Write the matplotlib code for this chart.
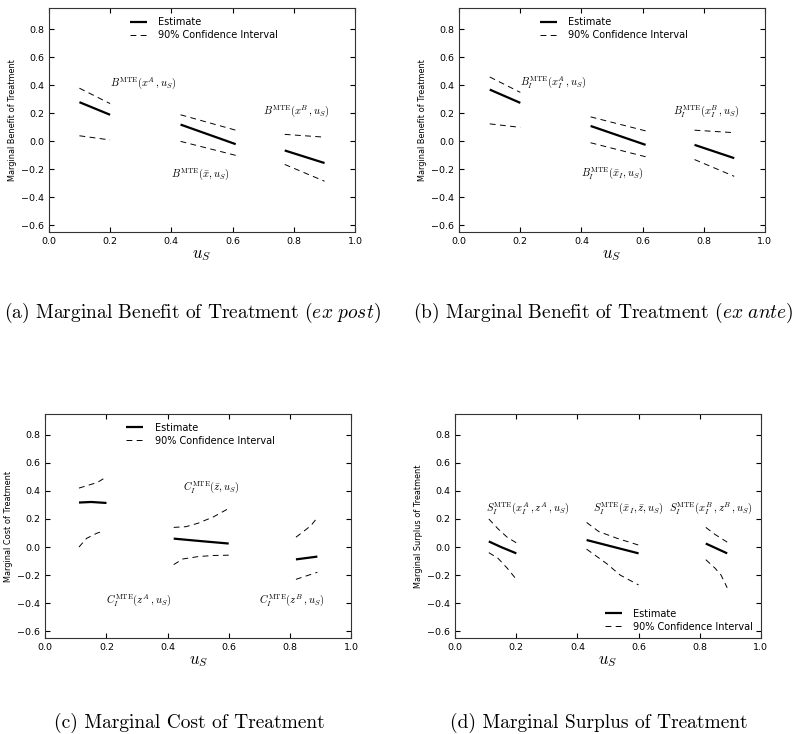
import matplotlib
matplotlib.use("Agg")
import matplotlib.pyplot as plt

plt.rcParams['mathtext.fontset'] = 'cm'
plt.rcParams['xtick.direction'] = 'in'
plt.rcParams['ytick.direction'] = 'in'
plt.rcParams['xtick.top'] = True
plt.rcParams['ytick.right'] = True
plt.rcParams['xtick.major.size'] = 3.5
plt.rcParams['ytick.major.size'] = 3.5
plt.rcParams['xtick.labelsize'] = 6.8
plt.rcParams['ytick.labelsize'] = 6.8
plt.rcParams['axes.linewidth'] = 0.8
plt.rcParams['axes.edgecolor'] = '#333333'

# ---- data ----
# (a) marginal benefit, ex post
a_xA = [0.10, 0.20]
a_estA = [0.28, 0.19]
a_upA = [0.38, 0.27]
a_loA = [0.04, 0.01]
a_xM = [0.43, 0.61]
a_estM = [0.12, -0.02]
a_upM = [0.19, 0.08]
a_loM = [0.00, -0.10]
a_xB = [0.77, 0.90]
a_estB = [-0.065, -0.155]
a_upB = [0.05, 0.03]
a_loB = [-0.165, -0.285]

# (b) marginal benefit, ex ante
b_xA = [0.10, 0.20]
b_estA = [0.37, 0.275]
b_upA = [0.46, 0.35]
b_loA = [0.125, 0.10]
b_xM = [0.43, 0.61]
b_estM = [0.11, -0.025]
b_upM = [0.175, 0.075]
b_loM = [-0.01, -0.11]
b_xB = [0.77, 0.90]
b_estB = [-0.025, -0.12]
b_upB = [0.08, 0.062]
b_loB = [-0.13, -0.25]

# (c) marginal cost
c_estA_x = [0.11, 0.15, 0.20]
c_estA = [0.317, 0.321, 0.314]
c_upA_x = [0.11, 0.14, 0.17, 0.20]
c_upA = [0.42, 0.44, 0.46, 0.50]
c_loA_x = [0.11, 0.135, 0.168, 0.19]
c_loA = [0.0, 0.062, 0.098, 0.114]
c_estM_x = [0.42, 0.51, 0.60]
c_estM = [0.06, 0.042, 0.025]
c_upM_x = [0.42, 0.46, 0.50, 0.55, 0.60]
c_upM = [0.14, 0.145, 0.17, 0.215, 0.275]
c_loM_x = [0.42, 0.45, 0.50, 0.55, 0.60]
c_loM = [-0.125, -0.085, -0.068, -0.06, -0.058]
c_estB_x = [0.82, 0.89]
c_estB = [-0.088, -0.068]
c_upB_x = [0.82, 0.85, 0.87, 0.89]
c_upB = [0.07, 0.12, 0.155, 0.21]
c_loB_x = [0.82, 0.89]
c_loB = [-0.23, -0.18]

# (d) marginal surplus
d_estA_x = [0.11, 0.15, 0.20]
d_estA = [0.04, 0.0, -0.045]
d_upA_x = [0.11, 0.14, 0.17, 0.20]
d_upA = [0.20, 0.13, 0.07, 0.03]
d_loA_x = [0.11, 0.14, 0.17, 0.20]
d_loA = [-0.04, -0.08, -0.15, -0.23]
d_estM_x = [0.43, 0.60]
d_estM = [0.05, -0.045]
d_upM_x = [0.43, 0.47, 0.53, 0.60]
d_upM = [0.175, 0.11, 0.062, 0.014]
d_loM_x = [0.43, 0.495, 0.54, 0.60]
d_loM = [-0.015, -0.117, -0.20, -0.27]
d_estB_x = [0.82, 0.89]
d_estB = [0.025, -0.045]
d_upB_x = [0.82, 0.85, 0.89]
d_upB = [0.14, 0.09, 0.035]
d_loB_x = [0.82, 0.85, 0.87, 0.89]
d_loB = [-0.09, -0.15, -0.20, -0.29]

ylabels = ['Marginal Benefit of Treatment', 'Marginal Benefit of Treatment',
           'Marginal Cost of Treatment', 'Marginal Surplus of Treatment']
captions = [r'(a) Marginal Benefit of Treatment $\mathit{(ex\ post)}$',
            r'(b) Marginal Benefit of Treatment $\mathit{(ex\ ante)}$',
            '(c) Marginal Cost of Treatment',
            '(d) Marginal Surplus of Treatment']

fig = plt.figure(figsize=(8, 7.34), dpi=100)
ax_a = fig.add_axes([0.061, 0.6835, 0.383, 0.305])
ax_b = fig.add_axes([0.574, 0.6835, 0.382, 0.305])
ax_c = fig.add_axes([0.0567, 0.1304, 0.382, 0.306])
ax_d = fig.add_axes([0.569, 0.1304, 0.382, 0.306])

EST = dict(color='black', lw=1.6, solid_capstyle='butt')
CI = dict(color='black', lw=0.7, ls=(0, (6, 4.5)))


def seg(ax, x_est, est, x_up, up, x_lo, lo):
    ax.plot(x_est, est, **EST)
    ax.plot(x_up, up, **CI)
    ax.plot(x_lo, lo, **CI)


seg(ax_a, a_xA, a_estA, a_xA, a_upA, a_xA, a_loA)
seg(ax_a, a_xM, a_estM, a_xM, a_upM, a_xM, a_loM)
seg(ax_a, a_xB, a_estB, a_xB, a_upB, a_xB, a_loB)

seg(ax_b, b_xA, b_estA, b_xA, b_upA, b_xA, b_loA)
seg(ax_b, b_xM, b_estM, b_xM, b_upM, b_xM, b_loM)
seg(ax_b, b_xB, b_estB, b_xB, b_upB, b_xB, b_loB)

seg(ax_c, c_estA_x, c_estA, c_upA_x, c_upA, c_loA_x, c_loA)
seg(ax_c, c_estM_x, c_estM, c_upM_x, c_upM, c_loM_x, c_loM)
seg(ax_c, c_estB_x, c_estB, c_upB_x, c_upB, c_loB_x, c_loB)

seg(ax_d, d_estA_x, d_estA, d_upA_x, d_upA, d_loA_x, d_loA)
seg(ax_d, d_estM_x, d_estM, d_upM_x, d_upM, d_loM_x, d_loM)
seg(ax_d, d_estB_x, d_estB, d_upB_x, d_upB, d_loB_x, d_loB)

lab = dict(fontsize=7.6, va='center', ha='left')
ax_a.text(0.20, 0.42, r'$B^{\mathrm{MTE}}(x^{A}\,,u_S)$', **lab)
ax_a.text(0.40, -0.23, r'$B^{\mathrm{MTE}}(\bar{x},u_S)$', **lab)
ax_a.text(0.70, 0.22, r'$B^{\mathrm{MTE}}(x^{B}\,,u_S)$', **lab)

ax_b.text(0.20, 0.42, r'$B_I^{\mathrm{MTE}}(x_I^{A}\,,u_S)$', **lab)
ax_b.text(0.40, -0.23, r'$B_I^{\mathrm{MTE}}(\bar{x}_I,u_S)$', **lab)
ax_b.text(0.70, 0.21, r'$B_I^{\mathrm{MTE}}(x_I^{B}\,,u_S)$', **lab)

ax_c.text(0.45, 0.42, r'$C_I^{\mathrm{MTE}}(\bar{z},u_S)$', **lab)
ax_c.text(0.20, -0.386, r'$C_I^{\mathrm{MTE}}(z^{A}\,,u_S)$', **lab)
ax_c.text(0.70, -0.386, r'$C_I^{\mathrm{MTE}}(z^{B}\,,u_S)$', **lab)

ax_d.text(0.10, 0.27, r'$S_I^{\mathrm{MTE}}(x_I^{A}\,,z^{A}\,,u_S)$', **lab)
ax_d.text(0.45, 0.27, r'$S_I^{\mathrm{MTE}}(\bar{x}_I,\bar{z},u_S)$', **lab)
ax_d.text(0.70, 0.27, r'$S_I^{\mathrm{MTE}}(x_I^{B}\,,z^{B}\,,u_S)$', **lab)

for ax, yl in zip([ax_a, ax_b, ax_c, ax_d], ylabels):
    ax.set_xlim(0, 1)
    ax.set_ylim(-0.65, 0.95)
    ax.set_xticks([0.0, 0.2, 0.4, 0.6, 0.8, 1.0])
    ax.set_yticks([-0.6, -0.4, -0.2, 0.0, 0.2, 0.4, 0.6, 0.8])
    ax.set_xlabel(r'$u_S$', fontsize=12, labelpad=-1)
    ax.set_ylabel(yl, fontsize=5.9, labelpad=3)
    ax.plot([], [], **EST, label='Estimate')
    ax.plot([], [], **CI, label='90% Confidence Interval')

leg = dict(frameon=False, fontsize=7, handlelength=1.7, handletextpad=1.2,
           labelspacing=0.3, borderpad=0, borderaxespad=0)
ax_a.legend(loc='upper left', bbox_to_anchor=(0.265, 0.96), **leg)
ax_b.legend(loc='upper left', bbox_to_anchor=(0.265, 0.96), **leg)
ax_c.legend(loc='upper left', bbox_to_anchor=(0.265, 0.96), **leg)
ax_d.legend(loc='lower right', bbox_to_anchor=(0.975, 0.03), **leg)

cap = dict(fontsize=14, family='cmr10', ha='center', va='center')
fig.text(0.241, 1 - 313 / 734, captions[0], **cap)
fig.text(0.754, 1 - 313 / 734, captions[1], **cap)
fig.text(0.237, 1 - 723 / 734, captions[2], **cap)
fig.text(0.749, 1 - 723 / 734, captions[3], **cap)

fig.savefig('out.png', dpi=100, facecolor='white')
